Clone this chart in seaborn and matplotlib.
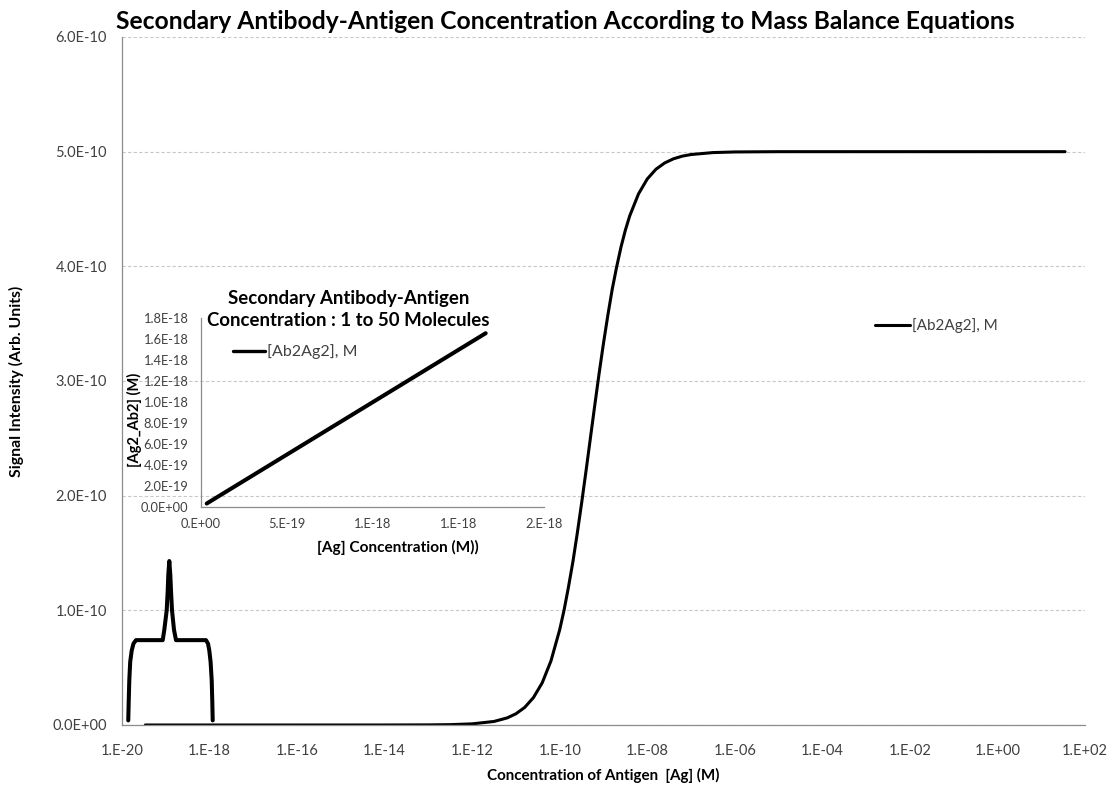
import numpy as np
import pandas as pd
import matplotlib
matplotlib.use("Agg")
import matplotlib.pyplot as plt
from matplotlib.ticker import FixedLocator, FuncFormatter, NullLocator
import seaborn as sns

# ---- data -------------------------------------------------------------
# bound secondary antibody-antigen complex vs. total antigen (mass balance)
ag_conc = [3.4e-20, 1e-16, 1e-14, 1e-13, 3.16e-13, 1e-12, 3.16e-12, 6.31e-12,
           1e-11, 1.58e-11, 2.51e-11, 3.98e-11, 6.31e-11, 1e-10, 1.26e-10,
           1.58e-10, 2e-10, 2.51e-10, 3.16e-10, 3.98e-10, 5.01e-10, 6.31e-10,
           7.94e-10, 1e-09, 1.26e-09, 1.58e-09, 2e-09, 2.51e-09, 3.16e-09,
           3.98e-09, 6.31e-09, 1e-08, 1.58e-08, 2.51e-08, 3.98e-08, 6.31e-08,
           1e-07, 3.16e-07, 1e-06, 1e-05, 35.0]
ab2ag2_e10 = [0.0, 0.0, 0.0001, 0.001, 0.003, 0.010, 0.031, 0.062, 0.098,
              0.153, 0.239, 0.368, 0.559, 0.832, 1.004, 1.201, 1.424, 1.669,
              1.934, 2.213, 2.5, 2.787, 3.066, 3.330, 3.576, 3.799, 3.996,
              4.168, 4.316, 4.441, 4.632, 4.762, 4.847, 4.902, 4.938, 4.961,
              4.975, 4.992, 4.9975, 5.0, 5.0]

# low-concentration trace on the main axes
low_x = [1.39e-20, 1.422e-20, 1.468e-20, 1.539e-20, 1.666e-20, 1.831e-20,
         2.089e-20, 8.51e-20, 9.26e-20, 1.050e-19, 1.107e-19, 1.142e-19,
         1.204e-19, 1.269e-19, 1.317e-19, 1.388e-19, 1.542e-19, 1.713e-19,
         8.30e-19, 9.22e-19, 9.87e-19, 1.057e-18, 1.120e-18, 1.156e-18,
         1.181e-18]
low_y_e10 = [0.04, 0.2, 0.39, 0.55, 0.65, 0.71, 0.74, 0.74, 0.83, 1.0, 1.17,
             1.31, 1.43, 1.31, 1.17, 1.0, 0.83, 0.74, 0.74, 0.71, 0.65, 0.55,
             0.39, 0.2, 0.04]

# 1 to 50 molecules
few_ag = [3.32e-20, 1.66e-18]
few_ab2ag2 = [3.3e-20, 1.655e-18]

main_xticks = [1e-20, 1e-18, 1e-16, 1e-14, 1e-12, 1e-10, 1e-08, 1e-06,
               1e-04, 1e-02, 1e+00, 1e+02]
main_yticks = [0.0, 1e-10, 2e-10, 3e-10, 4e-10, 5e-10, 6e-10]
inset_xticks = [0.0, 5e-19, 1e-18, 1.5e-18, 2e-18]
inset_yticks = [0.0, 2e-19, 4e-19, 6e-19, 8e-19, 1e-18, 1.2e-18, 1.4e-18,
                1.6e-18, 1.8e-18]

series_label = "[Ab2Ag2], M"

# ---- style ------------------------------------------------------------
sns.set_style("white")
plt.rcParams["font.family"] = ["Lato", "DejaVu Sans"]
TXT = "#404040"
AXC = "#8c8c8c"

fig = plt.figure(figsize=(11.16, 7.86), dpi=100)
ax = fig.add_axes([122 / 1116, 1 - 725 / 786, 963 / 1116, 688 / 786])

main_df = pd.DataFrame({"ag": ag_conc, "c": np.array(ab2ag2_e10) * 1e-10})
low_df = pd.DataFrame({"ag": low_x, "c": np.array(low_y_e10) * 1e-10})

sns.lineplot(data=low_df, x="ag", y="c", ax=ax, color="black", lw=2.9,
             sort=False, legend=False, label="_nolegend_")
sns.lineplot(data=main_df, x="ag", y="c", ax=ax, color="black", lw=2.2,
             sort=False, label=series_label)

ax.set_xscale("log")
ax.set_xlim(1e-20, 1e+02)
ax.set_ylim(0, 6e-10)
ax.xaxis.set_major_locator(FixedLocator(main_xticks))
ax.xaxis.set_minor_locator(NullLocator())
ax.yaxis.set_major_locator(FixedLocator(main_yticks))
ax.xaxis.set_major_formatter(FuncFormatter(lambda v, p: f"{v:.0E}".replace("E", ".E")))
ax.yaxis.set_major_formatter(FuncFormatter(lambda v, p: f"{v:.1E}"))
ax.tick_params(axis="both", length=0, labelsize=10.5, labelcolor=TXT)
ax.tick_params(axis="x", pad=14)
ax.tick_params(axis="y", pad=11)
ax.grid(axis="y", color="#c8c8c8", lw=0.8, linestyle=(0, (3, 2)))
ax.grid(axis="x", visible=False)
for s in ["top", "right"]:
    ax.spines[s].set_visible(False)
for s in ["left", "bottom"]:
    ax.spines[s].set_color(AXC)
    ax.spines[s].set_linewidth(0.9)

ax.set_xlabel("Concentration of Antigen  [Ag] (M)", fontsize=10.9,
              fontweight="bold", color="black", labelpad=7)
ax.set_ylabel("Signal Intensity (Arb. Units)", fontsize=11.3,
              fontweight="bold", color="black", labelpad=20)
ax.set_title("Secondary Antibody-Antigen Concentration According to Mass Balance Equations",
             fontsize=17.7, fontweight="bold", color="black", pad=6, x=0.46)

leg = ax.legend(loc="center left", bbox_to_anchor=(0.782, 0.580), frameon=False,
                fontsize=11, handlelength=2.3, handletextpad=0.15,
                borderaxespad=0, borderpad=0)
for t in leg.get_texts():
    t.set_color(TXT)
for h in leg.get_lines():
    h.set_linewidth(2.2)

# ---- inset: 1 to 50 molecules -----------------------------------------
ins = fig.add_axes([201 / 1116, 1 - 507 / 786, 343 / 1116, 189 / 786])
ins.patch.set_alpha(0)
few_df = pd.DataFrame({"ag": few_ag, "c": few_ab2ag2})
sns.lineplot(data=few_df, x="ag", y="c", ax=ins, color="black", lw=2.9,
             sort=False, label=series_label)
ins.set_xlim(0, 2e-18)
ins.set_ylim(0, 1.8e-18)
ins.xaxis.set_major_locator(FixedLocator(inset_xticks))
ins.yaxis.set_major_locator(FixedLocator(inset_yticks))
ins.xaxis.set_major_formatter(FuncFormatter(lambda v, p: f"{v:.0E}".replace("E", ".E")))
ins.yaxis.set_major_formatter(FuncFormatter(lambda v, p: f"{v:.1E}"))
ins.tick_params(axis="both", length=0, labelsize=9.3, labelcolor=TXT)
ins.tick_params(axis="x", pad=8)
ins.tick_params(axis="y", pad=9)
ins.grid(False)
for s in ["top", "right"]:
    ins.spines[s].set_visible(False)
for s in ["left", "bottom"]:
    ins.spines[s].set_color(AXC)
    ins.spines[s].set_linewidth(0.9)
ins.set_xlabel("[Ag] Concentration (M))", fontsize=11.1, fontweight="bold",
               color="black", labelpad=7, x=0.574)
ins.set_ylabel("[Ag2_Ab2] (M)", fontsize=10.5, fontweight="bold", color="black")
ins.yaxis.set_label_coords(-0.172, 0.46)
ins.text(0.43, 1.045, "Secondary Antibody-Antigen\nConcentration : 1 to 50 Molecules",
         transform=ins.transAxes, ha="center", va="center", fontsize=13.4,
         fontweight="bold", color="black", linespacing=1.3)
ileg = ins.legend(loc="center left", bbox_to_anchor=(0.093, 0.82), frameon=False,
                  fontsize=11.5, handlelength=2.0, handletextpad=0.15,
                  borderaxespad=0, borderpad=0)
for t in ileg.get_texts():
    t.set_color(TXT)
for h in ileg.get_lines():
    h.set_linewidth(2.4)

fig.savefig("out.png", dpi=100, facecolor="white")
